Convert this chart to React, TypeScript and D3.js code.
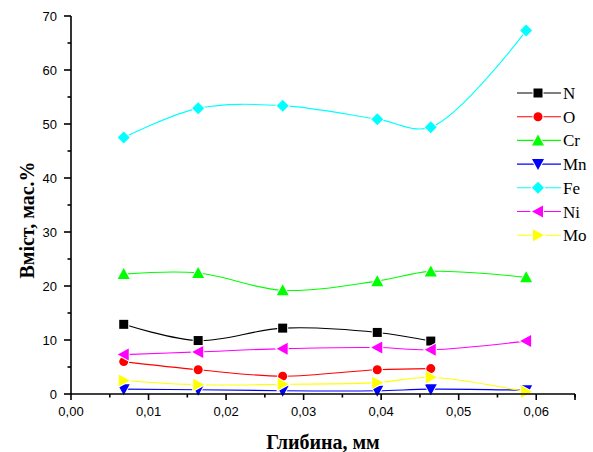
import React from 'react';
import * as d3 from 'd3';

const depths = [0.0068, 0.0164, 0.0273, 0.0395, 0.0464, 0.0587];

const nVals = [12.9, 9.9, 12.2, 11.4, 9.8];
const oVals = [6.0, 4.5, 3.3, 4.5, 4.7];
const crVals = [22.2, 22.4, 19.2, 20.9, 22.7, 21.6];
const mnVals = [0.9, 0.8, 0.6, 0.6, 0.9, 0.7];
const feVals = [47.5, 52.9, 53.4, 50.9, 49.4, 67.3];
const niVals = [7.3, 7.8, 8.4, 8.6, 8.2, 9.8];
const moVals = [2.5, 1.7, 1.8, 2.1, 3.1, 0.4];

const xTicks = [0, 0.01, 0.02, 0.03, 0.04, 0.05, 0.06];
const yTicks = [0, 10, 20, 30, 40, 50, 60, 70];

const W = 593;
const H = 452;
const margin = { left: 71, right: 18, top: 16, bottom: 58 };

const series = [
  { name: 'N', values: nVals, color: '#000000', marker: 'square' },
  { name: 'O', values: oVals, color: '#ff0000', marker: 'circle' },
  { name: 'Cr', values: crVals, color: '#00ff00', marker: 'up' },
  { name: 'Mn', values: mnVals, color: '#0000ff', marker: 'down' },
  { name: 'Fe', values: feVals, color: '#00ffff', marker: 'diamond' },
  { name: 'Ni', values: niVals, color: '#ff00ff', marker: 'left' },
  { name: 'Mo', values: moVals, color: '#ffff00', marker: 'right' },
];

// marker outline centred on (0,0)
const markerPath = (type: string) => {
  const s = 5;
  switch (type) {
    case 'square':
      return `M${-4.5},${-4.5}h9v9h-9z`;
    case 'circle':
      return d3.symbol(d3.symbolCircle, 64)() as string;
    case 'up':
      return `M0,${-s - 1}L${s + 1},${s}L${-s - 1},${s}z`;
    case 'down':
      return `M0,${s + 1}L${s + 1},${-s}L${-s - 1},${-s}z`;
    case 'left':
      return `M${-s - 1},0L${s},${-s - 1}L${s},${s + 1}z`;
    case 'right':
      return `M${s + 1},0L${-s},${-s - 1}L${-s},${s + 1}z`;
    default:
      return `M0,${-s - 1}L${s + 1},0L0,${s + 1}L${-s - 1},0z`;
  }
};

const App = () => {
  const x = d3.scaleLinear().domain([0, 0.065]).range([margin.left, W - margin.right]);
  const y = d3.scaleLinear().domain([0, 70]).range([H - margin.bottom, margin.top]);
  const x0 = x(0);
  const y0 = y(0);

  const line = d3
    .line<[number, number]>()
    .x((d) => x(d[0]))
    .y((d) => y(d[1]))
    .curve(d3.curveCatmullRom.alpha(0.5));

  const xMinor = d3.range(0.005, 0.066, 0.01);
  const yMinor = d3.range(5, 70, 10);
  const fmt = (v: number) => v.toFixed(2).replace('.', ',');

  const legX = 517;
  const legY0 = 93;
  const legStep = 23.7;

  return (
    <div style={{ position: 'fixed', left: 0, top: 0 }}>
      <svg width={W} height={H} style={{ background: '#fff', display: 'block' }}>
        {series.map((s) => {
          const pts = s.values.map((v, i) => [depths[i], v] as [number, number]);
          return (
            <g key={s.name}>
              <path d={line(pts) || ''} fill="none" stroke={s.color} strokeWidth={1.1} />
            </g>
          );
        })}
        {series.map((s) =>
          s.values.map((v, i) => (
            <path
              key={s.name + i}
              d={markerPath(s.marker)}
              transform={`translate(${x(depths[i])},${y(v)})`}
              fill={s.color}
              stroke="#fff"
              strokeWidth={2}
              style={{ paintOrder: 'stroke' }}
            />
          ))
        )}

        {/* axes */}
        <g stroke="#000" strokeWidth={1.6} fill="none">
          <line x1={x0} x2={x0} y1={y(70)} y2={y0 + 0.8} />
          <line x1={x0} x2={x(0.065)} y1={y0} y2={y0} />
          {xTicks.map((t) => (
            <line key={'xt' + t} x1={x(t)} x2={x(t)} y1={y0} y2={y0 + 6} />
          ))}
          {xMinor.map((t) => (
            <line key={'xm' + t} x1={x(t)} x2={x(t)} y1={y0} y2={y0 + 3.5} />
          ))}
          <line x1={x(0.065)} x2={x(0.065)} y1={y0} y2={y0 + 6} />
          {yTicks.map((t) => (
            <line key={'yt' + t} x1={x0 - 7} x2={x0} y1={y(t)} y2={y(t)} />
          ))}
          {yMinor.map((t) => (
            <line key={'ym' + t} x1={x0 - 3.5} x2={x0} y1={y(t)} y2={y(t)} />
          ))}
        </g>
        <g fontFamily="'Liberation Sans', Arial, sans-serif" fontSize={13} fill="#000">
          {xTicks.map((t) => (
            <text key={'xl' + t} x={x(t)} y={y0 + 22} textAnchor="middle">
              {fmt(t)}
            </text>
          ))}
          {yTicks.map((t) => (
            <text key={'yl' + t} x={57} y={y(t) + 4.5} textAnchor="end">
              {t}
            </text>
          ))}
        </g>
        <g fontFamily="'Liberation Serif', 'Times New Roman', serif" fontWeight="bold" fontSize={20} fill="#000">
          <text x={323} y={449} textAnchor="middle">
            Глибина, мм
          </text>
          <text transform={`translate(34,220) rotate(-90)`} textAnchor="middle">
            Вміст, мас.%
          </text>
        </g>

        {/* legend */}
        {series.map((s, i) => {
          const ly = legY0 + i * legStep;
          return (
            <g key={'leg' + s.name}>
              <line x1={legX} x2={legX + 44} y1={ly} y2={ly} stroke={s.color} strokeWidth={1.1} />
              <path
                d={markerPath(s.marker)}
                transform={`translate(${legX + 21},${ly})`}
                fill={s.color}
                stroke="#fff"
                strokeWidth={2}
                style={{ paintOrder: 'stroke' }}
              />
              <text
                x={legX + 46}
                y={ly + 6}
                fontFamily="'Liberation Serif', 'Times New Roman', serif"
                fontSize={17}
                fill="#000"
              >
                {s.name}
              </text>
            </g>
          );
        })}
      </svg>
    </div>
  );
};

export default App;
